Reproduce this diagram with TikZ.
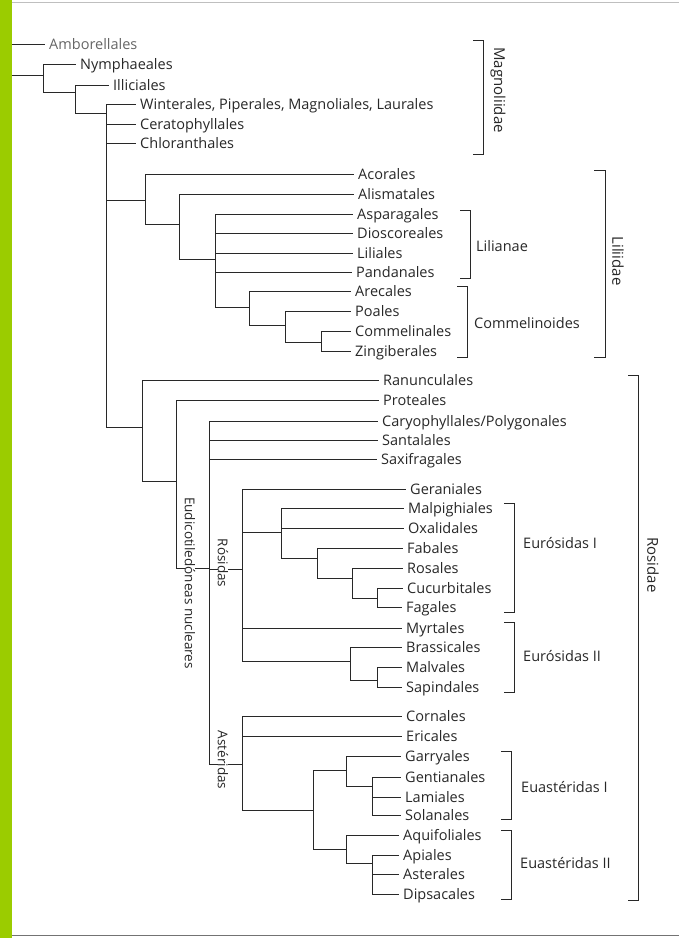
\documentclass[tikz,border=0pt]{standalone}
\usepackage{fontspec}
\setmainfont{Open Sans}
\definecolor{bargreen}{RGB}{155,204,0}
\definecolor{ink}{RGB}{40,40,40}
\begin{document}
\begin{tikzpicture}[x=1pt,y=-1pt,
  leaf/.style={anchor=west,inner xsep=0pt,inner ysep=0pt,text height=10.4pt,text depth=0pt,font=\fontsize{14.5}{17}\selectfont,text=ink},
  big/.style={rotate=-90,font=\fontsize{15}{18}\selectfont,inner sep=0pt,text=ink},
  rot/.style={rotate=-90,font=\fontsize{13.5}{16}\selectfont,fill=white,inner xsep=2pt,inner ysep=0pt,text=ink},
  br/.style={line width=0.7pt,draw=ink},
  edge/.style={line width=0.75pt,draw=ink}]
\newcommand\tleaf[2]{\draw[edge] (#1) |- ([xshift=-4pt]#2.west);}
\newcommand\tnode[2]{\draw[edge] (#1) |- (#2);}
\useasboundingbox (0,0) rectangle (679,938);
\fill[white] (0,0) rectangle (679,938);
% ---------- leaves ----------
\node[leaf,text=black!60] (amb) at (49,44) {Amborellales};
\node[leaf] (nym) at (80,64) {Nymphaeales};
\node[leaf] (ill) at (113,85) {Illiciales};
\node[leaf] (win) at (140,104) {Winterales, Piperales, Magnoliales, Laurales};
\node[leaf] (cer) at (140,124) {Ceratophyllales};
\node[leaf] (chl) at (140,143) {Chloranthales};
\node[leaf] (aco) at (358,174) {Acorales};
\node[leaf] (ali) at (358,194) {Alismatales};
\node[leaf] (asp) at (357,214) {Asparagales};
\node[leaf] (dio) at (357,233) {Dioscoreales};
\node[leaf] (lil) at (357,253) {Liliales};
\node[leaf] (pan) at (356,272) {Pandanales};
\node[leaf] (are) at (355,291) {Arecales};
\node[leaf] (poa) at (355,311) {Poales};
\node[leaf] (com) at (355,331) {Commelinales};
\node[leaf] (zin) at (355,351) {Zingiberales};
\node[leaf] (ran) at (383,380) {Ranunculales};
\node[leaf] (pro) at (383,400) {Proteales};
\node[leaf] (car) at (382,421) {Caryophyllales/Polygonales};
\node[leaf] (san) at (382,440) {Santalales};
\node[leaf] (sax) at (381,459) {Saxifragales};
\node[leaf] (ger) at (410,489) {Geraniales};
\node[leaf] (mal) at (408,508) {Malpighiales};
\node[leaf] (oxa) at (408,528) {Oxalidales};
\node[leaf] (fab) at (407,548) {Fabales};
\node[leaf] (ros) at (407,568) {Rosales};
\node[leaf] (cuc) at (407,588) {Cucurbitales};
\node[leaf] (fag) at (406,607) {Fagales};
\node[leaf] (myr) at (406,628) {Myrtales};
\node[leaf] (bra) at (406,647) {Brassicales};
\node[leaf] (mlv) at (406,667) {Malvales};
\node[leaf] (sap) at (406,687) {Sapindales};
\node[leaf] (cor) at (406,716) {Cornales};
\node[leaf] (eri) at (406,736) {Ericales};
\node[leaf] (gar) at (405,756) {Garryales};
\node[leaf] (gen) at (405,777) {Gentianales};
\node[leaf] (lam) at (405,797) {Lamiales};
\node[leaf] (sol) at (405,815) {Solanales};
\node[leaf] (aqu) at (403,835) {Aquifoliales};
\node[leaf] (api) at (403,855) {Apiales};
\node[leaf] (ast) at (403,874) {Asterales};
\node[leaf] (dip) at (403,894) {Dipsacales};
% ---------- internal nodes ----------
\coordinate (root) at (3,60);
\coordinate (n1) at (43,75);
\coordinate (n2) at (75,92);
\coordinate (n3) at (106,113);
\coordinate (m0) at (145,200);
\coordinate (m1) at (179,224);
\coordinate (m2) at (215,259);
\coordinate (m3) at (249,307);
\coordinate (m4) at (285,325);
\coordinate (m5) at (321,342);
\coordinate (e0) at (142,427);
\coordinate (e1) at (176,481);
\coordinate (e2) at (209,568);
\coordinate (rs) at (242,569);
\coordinate (r1) at (281,532);
\coordinate (r2) at (317,558);
\coordinate (r3) at (352,578);
\coordinate (r4) at (377,598);
\coordinate (r5) at (350,661);
\coordinate (r6) at (377,680);
\coordinate (as) at (242,764);
\coordinate (a1) at (313,810);
\coordinate (a2) at (346,770);
\coordinate (a3) at (372,786);
\coordinate (a4) at (346,849);
\coordinate (a5) at (372,863);
% ---------- edges ----------
\tleaf{root}{amb} \tnode{root}{n1}
\tleaf{n1}{nym} \tnode{n1}{n2}
\tleaf{n2}{ill} \tnode{n2}{n3}
\tleaf{n3}{win} \tleaf{n3}{cer} \tleaf{n3}{chl} \tnode{n3}{m0} \tnode{n3}{e0}
\tleaf{m0}{aco} \tnode{m0}{m1}
\tleaf{m1}{ali} \tnode{m1}{m2}
\tleaf{m2}{asp} \tleaf{m2}{dio} \tleaf{m2}{lil} \tleaf{m2}{pan} \tnode{m2}{m3}
\tleaf{m3}{are} \tnode{m3}{m4}
\tleaf{m4}{poa} \tnode{m4}{m5}
\tleaf{m5}{com} \tleaf{m5}{zin}
\tleaf{e0}{ran} \tnode{e0}{e1}
\tleaf{e1}{pro} \tnode{e1}{e2}
\tleaf{e2}{car} \tleaf{e2}{san} \tleaf{e2}{sax} \tnode{e2}{rs} \tnode{e2}{as}
\tleaf{rs}{ger} \tnode{rs}{r1} \tleaf{rs}{myr} \tnode{rs}{r5}
\tleaf{r1}{mal} \tleaf{r1}{oxa} \tnode{r1}{r2}
\tleaf{r2}{fab} \tnode{r2}{r3}
\tleaf{r3}{ros} \tnode{r3}{r4}
\tleaf{r4}{cuc} \tleaf{r4}{fag}
\tleaf{r5}{bra} \tnode{r5}{r6}
\tleaf{r6}{mlv} \tleaf{r6}{sap}
\tleaf{as}{cor} \tleaf{as}{eri} \tnode{as}{a1}
\tnode{a1}{a2} \tnode{a1}{a4}
\tleaf{a2}{gar} \tnode{a2}{a3}
\tleaf{a3}{gen} \tleaf{a3}{lam} \tleaf{a3}{sol}
\tleaf{a4}{aqu} \tnode{a4}{a5}
\tleaf{a5}{api} \tleaf{a5}{ast} \tleaf{a5}{dip}
% ---------- clade labels on branches ----------
\node[rot] (eud) at (190,583) {Eudicotiledóneas nucleares};
\node[rot] (rsl) at (223,563) {Rósidas};
\node[rot] (asl) at (223,760) {Astéridas};
% ---------- brackets ----------
\draw[br] (473,40) -- (483,40) -- (483,154) -- (473,154);
\node[big] (magl) at (498,90) {Magnoliidae};
\draw[br] (460,210) -- (470,210) -- (470,278) -- (460,278);
\node[leaf] (lial) at (476,246) {Lilianae};
\draw[br] (457,286) -- (467,286) -- (467,357) -- (457,357);
\node[leaf] (coml) at (474,323) {Commelinoides};
\draw[br] (594,170) -- (605,170) -- (605,357) -- (594,357);
\node[big] (lidl) at (618,261) {Liliidae};
\draw[br] (504,503) -- (514,503) -- (514,612) -- (504,612);
\node[leaf] (eu1l) at (523,543) {Eurósidas I};
\draw[br] (504,622) -- (514,622) -- (514,692) -- (504,692);
\node[leaf] (eu2l) at (523,656) {Eurósidas II};
\draw[br] (501,751) -- (511,751) -- (511,819) -- (501,819);
\node[leaf] (ea1l) at (521,787) {Euastéridas I};
\draw[br] (501,830) -- (511,830) -- (511,899) -- (501,899);
\node[leaf] (ea2l) at (520,863) {Euastéridas II};
\draw[br] (628,375) -- (638,375) -- (638,900) -- (628,900);
\node[big] (rosl) at (653,565) {Rosidae};
% ---------- page frame ----------
\draw[line width=0.8pt,black!25] (11,2.5) -- (679,2.5);
\draw[line width=1pt,black!55] (11,935) -- (679,935);
\fill[bargreen] (0,0) rectangle (11.5,938);
\end{tikzpicture}
\end{document}
